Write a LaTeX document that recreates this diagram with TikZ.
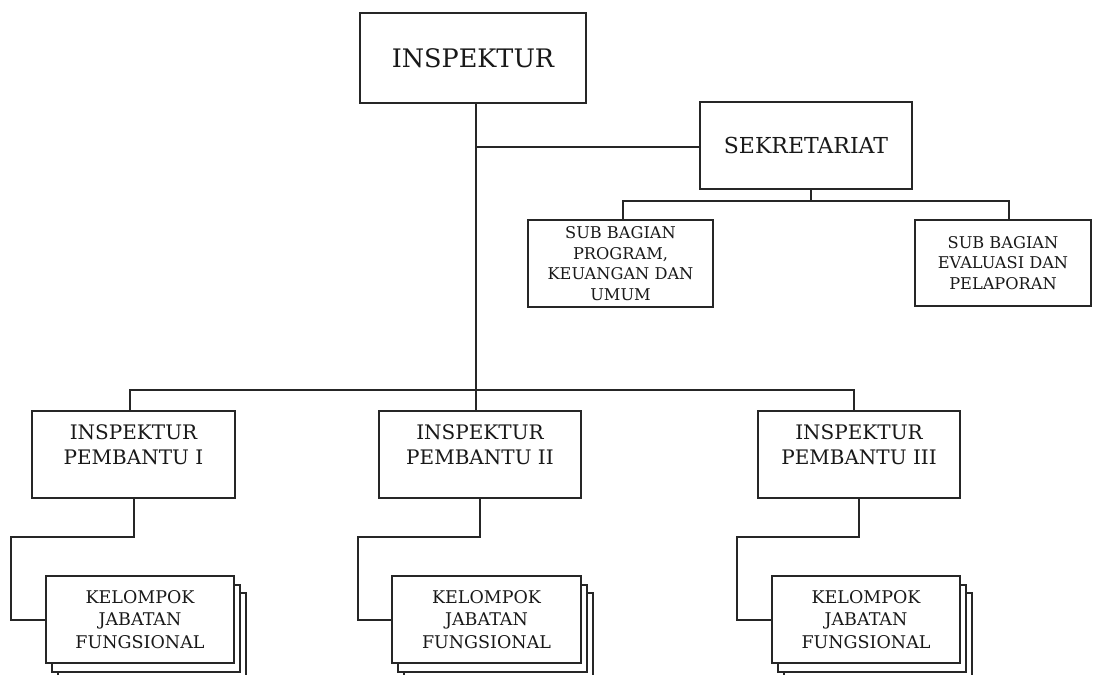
\documentclass[tikz,border=0pt]{standalone}
\usepackage{fontspec}
\setmainfont{DejaVu Serif}
\usetikzlibrary{calc}
\pgfdeclarelayer{background}
\pgfsetlayers{background,main}
\begin{document}
\begin{tikzpicture}[x=1pt,y=-1pt,
  box/.style={draw=black!85, line width=2pt, fill=white, rectangle, inner sep=0pt, outer sep=0pt, align=center, text=black!90},
  shadowbox/.style={draw=black!85, line width=2pt, fill=white},
  conn/.style={draw=black!85, line width=2pt, line join=miter},
  lbl/.style={align=center, inner sep=0pt, text=black!90},
  big/.style={font=\fontsize{25.5}{30}\selectfont},
  mid/.style={font=\fontsize{22}{26}\selectfont},
  ipf/.style={font=\fontsize{20}{25}\selectfont},
  subf/.style={font=\fontsize{16.2}{20.5}\selectfont},
  kjff/.style={font=\fontsize{17.5}{22.5}\selectfont},
]
\useasboundingbox (0,0) rectangle (1093,675);
\clip (0,0) rectangle (1093,675);

% top boxes
\node[box, big, minimum width=226pt, minimum height=90pt] (insp) at (473,58) {INSPEKTUR};
\node[box, mid, minimum width=212pt, minimum height=87pt] (sek) at (806,145.5) {SEKRETARIAT};
\node[box, subf, minimum width=185pt, minimum height=87pt] (sub1) at (620.5,263.5) {SUB BAGIAN\\PROGRAM,\\KEUANGAN DAN\\UMUM};
\node[box, subf, minimum width=176pt, minimum height=86pt] (sub2) at (1003,263) {SUB BAGIAN\\EVALUASI DAN\\PELAPORAN};

% inspektur pembantu
\node[box, minimum width=203pt, minimum height=87pt] (ip1) at (133.5,454.5) {};
\node[box, minimum width=202pt, minimum height=87pt] (ip2) at (480,454.5) {};
\node[box, minimum width=202pt, minimum height=87pt] (ip3) at (859,454.5) {};
\node[lbl, ipf] (ip1t) at (133.5,444.5) {INSPEKTUR\\PEMBANTU I};
\node[lbl, ipf] (ip2t) at (480,444.5) {INSPEKTUR\\PEMBANTU II};
\node[lbl, ipf] (ip3t) at (859,444.5) {INSPEKTUR\\PEMBANTU III};

% kelompok jabatan fungsional
\node[box, kjff, minimum width=188pt, minimum height=87pt] (kjf1) at (140,619.5) {KELOMPOK\\JABATAN\\FUNGSIONAL};
\node[box, kjff, minimum width=189pt, minimum height=87pt] (kjf2) at (486.5,619.5) {KELOMPOK\\JABATAN\\FUNGSIONAL};
\node[box, kjff, minimum width=188pt, minimum height=87pt] (kjf3) at (866,619.5) {KELOMPOK\\JABATAN\\FUNGSIONAL};

\begin{pgfonlayer}{background}
\foreach \n in {kjf1,kjf2,kjf3}{
  \draw[shadowbox] ($(\n.south west)+(12,17)$) rectangle ($(\n.north east)+(12,17)$);
  \draw[shadowbox] ($(\n.south west)+(6,9)$) rectangle ($(\n.north east)+(6,9)$);
}
\end{pgfonlayer}

% connectors
\coordinate (tj) at (476,147);
\coordinate (tb) at (476,390);
\draw[conn] (insp.south -| tb) -- (tb) -- (tb |- ip2.north);
\draw[conn] (tj) -- (tj -| sek.west);
\coordinate (sb) at (811,201);
\draw[conn] (sb |- sek.south) -- (sb);
\coordinate (s1) at (623,201);
\coordinate (s2) at (1009,201);
\draw[conn] (s1 |- sub1.north) -- (s1) -- (s2) -- (s2 |- sub2.north);
\coordinate (b1) at (130,390);
\coordinate (b3) at (854,390);
\draw[conn] (b1 |- ip1.north) -- (b1) -- (b3) -- (b3 |- ip3.north);
\coordinate (e1) at (11,537);
\coordinate (e2) at (358,537);
\coordinate (e3) at (737,537);
\draw[conn] (ip1.south) |- (e1) |- (kjf1.west);
\draw[conn] (ip2.south) |- (e2) |- (kjf2.west);
\draw[conn] (ip3.south) |- (e3) |- (kjf3.west);
\end{tikzpicture}
\end{document}
